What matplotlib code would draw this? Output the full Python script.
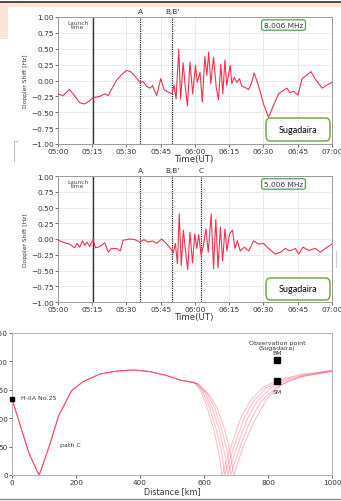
import matplotlib.pyplot as plt
import matplotlib.transforms as mtransforms
from matplotlib.patches import Rectangle, FancyBboxPatch
from matplotlib.lines import Line2D

W, H = 341, 502

# Doppler shift, 8.006 MHz (minutes after 05:00 UT, Hz)
t_8mhz = [0, 2.2, 5, 7.3, 9.5, 11.7, 13, 15.5, 18.3, 20.5, 22, 23.4, 25.6, 27.8, 30, 31.8,
          33.7, 35.9, 37.3, 38.8, 40.3, 41.4, 43.2, 45, 46.4, 47.6, 50, 50.8, 51.7, 52.9,
          53.7, 54.8, 55.8, 56.7, 57.8, 59, 60.2, 61, 62.2, 63.2, 64.3, 65.2, 66, 66.9,
          68.1, 69.3, 70.3, 71.3, 72.2, 73.1, 73.9, 75.4, 76.1, 77.2, 78.3, 79.5, 80.5,
          82, 83.5, 84.5, 85.9, 87.8, 90, 92.2, 94.4, 96.6, 98.5, 100.3, 101.5, 103.2,
          105.1, 106.9, 108.8, 110.8, 112.7, 115.7, 117.9, 120]
v_8mhz = [-0.21, -0.24, -0.14, -0.24, -0.35, -0.37, -0.34, -0.27, -0.25, -0.21, -0.24, -0.14,
          0.0, 0.09, 0.16, 0.14, 0.07, -0.03, -0.02, -0.09, -0.12, -0.08, -0.24, 0.03, -0.14,
          -0.17, -0.21, -0.07, -0.29, 0.49, -0.29, 0.28, -0.12, -0.40, 0.29, -0.21, 0.24,
          -0.03, 0.13, -0.34, 0.38, 0.08, 0.45, -0.05, 0.37, -0.11, -0.30, 0.26, -0.21, 0.32,
          -0.08, 0.24, -0.05, 0.05, -0.03, 0.03, -0.09, -0.11, -0.14, -0.07, 0.12, -0.08,
          -0.37, -0.58, -0.39, -0.21, -0.16, -0.12, -0.19, -0.17, -0.23, 0.03, 0.08, 0.14,
          0.02, -0.12, -0.07, -0.03]

# Doppler shift, 5.006 MHz
t_5mhz = [0, 3, 5, 7.3, 8.3, 9.5, 10.7, 11.7, 12.7, 13.9, 15.4, 16.4, 18.3, 20.5, 22, 23.4,
          25.6, 27.3, 28.5, 31.5, 33.7, 35.9, 37.6, 39.5, 41.4, 43.2, 45.4, 47.6, 49.3, 50.5,
          51.4, 52.3, 53.1, 54, 54.9, 55.8, 56.8, 57.8, 58.9, 59.9, 60.8, 61.6, 62.7, 63.7,
          64.8, 65.8, 67.1, 68.1, 69.1, 70.1, 71.1, 72.1, 73.1, 74, 75.1, 76.4, 77.5, 78.6,
          79.8, 81.6, 83.5, 85.7, 87.8, 90, 92.2, 95.2, 97.4, 99.6, 101.5, 104, 105.4,
          107.3, 109.8, 112.7, 114.9, 117.1, 120]
v_5mhz = [-0.02, -0.06, -0.08, -0.14, -0.07, -0.13, -0.03, -0.10, -0.05, -0.12, 0.0, -0.14,
          -0.12, -0.06, -0.21, -0.15, -0.15, -0.19, -0.02, 0.0, -0.01, -0.05, -0.01, -0.05,
          -0.03, -0.07, 0.0, -0.08, -0.15, -0.22, -0.07, -0.39, 0.40, -0.42, 0.14, -0.18,
          -0.49, 0.11, -0.38, 0.08, -0.15, 0.07, -0.26, -0.10, 0.16, -0.21, 0.40, -0.47,
          0.31, -0.46, 0.19, -0.35, 0.16, -0.19, 0.08, 0.14, -0.15, -0.03, -0.19, -0.13,
          -0.19, -0.03, -0.08, -0.07, -0.15, -0.24, -0.21, -0.15, -0.19, -0.15, -0.24,
          -0.13, -0.18, -0.15, -0.21, -0.15, -0.08]

time_ticks = [0, 15, 30, 45, 60, 75, 90, 105, 120]
time_labels = ["05:00", "05:15", "05:30", "05:45", "06:00", "06:15", "06:30", "06:45", "07:00"]
shift_ticks = [1.0, 0.75, 0.5, 0.25, 0.0, -0.25, -0.5, -0.75, -1.0]

launch_time = 15.5
events_8mhz = [("A", 36), ("B,B'", 50)]
events_5mhz = [("A", 36), ("B,B'", 50), ("C", 62.7)]

# ray path C (distance km, altitude km)
path_x_common = [0, 26, 52, 78, 85, 99, 120, 146, 161, 187, 224, 276, 328, 380, 432, 484, 526]
path_y_common = [134, 87, 40, 7, 0, 22, 57, 105, 121, 149, 165, 178, 183, 185, 182, 175, 167]
tails_x = [
    [568, 589, 609, 630, 646, 656, 682, 714, 745, 786, 838, 901, 1000],
    [572, 596, 617, 638, 655, 665, 692, 724, 755, 796, 846, 905, 1000],
    [576, 603, 625, 647, 664, 674, 702, 734, 765, 806, 854, 910, 1000],
    [580, 610, 633, 655, 673, 683, 713, 744, 776, 817, 862, 915, 1000],
    [584, 617, 641, 664, 682, 693, 724, 755, 797, 838, 901, 1000],
]
tails_y = [
    [164, 149, 120, 81, 40, 0, 46, 99, 131, 155, 168, 177, 184],
    [163, 147, 120, 81, 40, 0, 47, 98, 130, 154, 167, 176, 184],
    [162, 145, 119, 81, 40, 0, 48, 97, 129, 152, 166, 175, 183],
    [161, 143, 119, 81, 40, 0, 50, 95, 128, 150, 165, 174, 183],
    [160, 141, 118, 81, 40, 0, 52, 93, 134, 158, 173, 182],
]
launch_site = (0, 134)
bm_point = (828, 203)
sm_point = (828, 166)

RED = "#f2304f"
GREEN = "#70ad47"


def fy(py):
    return 1 - py / H


fig = plt.figure(figsize=(W / 100, H / 100), dpi=100)

# slide background bits
fig.add_artist(Rectangle((0, fy(40)), 1, fy(4) - fy(40), transform=fig.transFigure,
                         facecolor="#fbe4d5", edgecolor="none", zorder=0))
fig.add_artist(Rectangle((8 / W, fy(166)), 1, fy(8) - fy(166), transform=fig.transFigure,
                         facecolor="white", edgecolor="none", zorder=0))
fig.add_artist(Line2D([0, 1], [fy(3), fy(3)], transform=fig.transFigure, color="#3a3a3a", lw=1.3))
fig.add_artist(Line2D([0, 1], [fy(500), fy(500)], transform=fig.transFigure, color="#8a8a8a", lw=1))
fig.add_artist(Line2D([14 / W, 14 / W, 17 / W], [fy(162), fy(142), fy(142)],
                      transform=fig.transFigure, color="#c0c0c0", lw=0.8))
fig.add_artist(Line2D([336 / W, 336 / W], [fy(252), fy(268)],
                      transform=fig.transFigure, color="#c8c8c8", lw=0.8))


def doppler_panel(top, bottom, t, v, freq, events):
    ax = fig.add_axes([58 / W, fy(bottom), 274 / W, (bottom - top) / H])
    ax.plot(t, v, color=RED, lw=0.8, zorder=3)
    ax.set_xlim(0, 120)
    ax.set_ylim(-1, 1)
    ax.set_xticks(time_ticks)
    ax.set_xticklabels(time_labels)
    ax.set_yticks(shift_ticks)
    ax.set_yticklabels([f"{s:.2f}".replace("-", "\u2212") for s in shift_ticks])
    ax.tick_params(labelsize=5.3, length=2, width=0.5, pad=1, colors="#333333")
    ax.grid(color="#e6e6e6", lw=0.6)
    for sp in ax.spines.values():
        sp.set_color("#9a9a9a")
        sp.set_linewidth(0.7)
    ax.set_xlabel("Time(UT)", fontsize=6.2, labelpad=0, color="#333333")
    ax.set_ylabel("Doppler Shift [Hz]", fontsize=4.3, labelpad=2, color="#333333")

    ax.axvline(launch_time, color="#333333", lw=1.0, zorder=2)
    ax.text(0.072, 0.94, "Launch\ntime", transform=ax.transAxes, fontsize=4.2,
            ha="center", va="center", color="#444444", linespacing=0.9)
    trans = mtransforms.blended_transform_factory(ax.transData, ax.transAxes)
    for name, tm in events:
        ax.axvline(tm, color="#222222", lw=0.9, ls=(0, (1, 0.8)), zorder=2)
        ax.text(tm, 1.025, name, transform=trans, fontsize=5.3, ha="center", va="bottom",
                color="#333333")
    ax.text(0.823, 0.937, freq, transform=ax.transAxes, fontsize=5.3, ha="center",
            va="center", color="#333333",
            bbox=dict(boxstyle="round,pad=0.3", fc="white", ec="#5a9a5a", lw=0.9))
    return ax


doppler_panel(18, 145, t_8mhz, v_8mhz, "8.006 MHz", events_8mhz)
doppler_panel(177, 303, t_5mhz, v_5mhz, "5.006 MHz", events_5mhz)

# "Sugadaira" callouts
for top, bottom in [(119, 142), (279, 301)]:
    fig.add_artist(FancyBboxPatch((266 / W, fy(bottom)), 64 / W, (bottom - top) / H,
                                  boxstyle="round,pad=0,rounding_size=0.012",
                                  transform=fig.transFigure, fc="white", ec=GREEN, lw=1.1))
    fig.text(298 / W, fy((top + bottom) / 2), "Sugadaira", fontsize=6.5, family="Lato",
             ha="center", va="center", color="black")

# ray path panel
ax3 = fig.add_axes([12 / W, fy(476), 320 / W, 142 / H])
for tx, ty in zip(tails_x, tails_y):
    ax3.plot(path_x_common + tx, path_y_common + ty, color="#ff3355", lw=0.7, alpha=0.35)
ax3.set_xlim(0, 1000)
ax3.set_ylim(0, 250)
ax3.set_xticks([0, 200, 400, 600, 800, 1000])
ax3.set_yticks([0, 50, 100, 150, 200, 250])
ax3.tick_params(labelsize=5.2, length=2, width=0.5, pad=1, colors="#333333")
for sp in ax3.spines.values():
    sp.set_color("#b0b0b0")
    sp.set_linewidth(0.7)
ax3.set_xlabel("Distance [km]", fontsize=5.8, labelpad=1, color="#333333")

ax3.plot(*launch_site, "s", color="black", ms=3.5, clip_on=False, zorder=5)
ax3.text(28, 136, "H-IIA No.25", fontsize=4.5, va="center", color="#333333")
ax3.text(150, 53, "path C", fontsize=4.5, va="center", color="#333333")
ax3.plot(*bm_point, "s", color="black", ms=4, zorder=5)
ax3.plot(*sm_point, "s", color="black", ms=4, zorder=5)
ax3.text(828, 212, "Observation point\n(Sugadaira)\nBM", fontsize=4.5, ha="center",
         va="bottom", color="#333333", linespacing=0.9)
ax3.text(828, 152, "SM", fontsize=4.5, ha="center", va="top", color="#333333")

fig.savefig("out.png", dpi=100)
